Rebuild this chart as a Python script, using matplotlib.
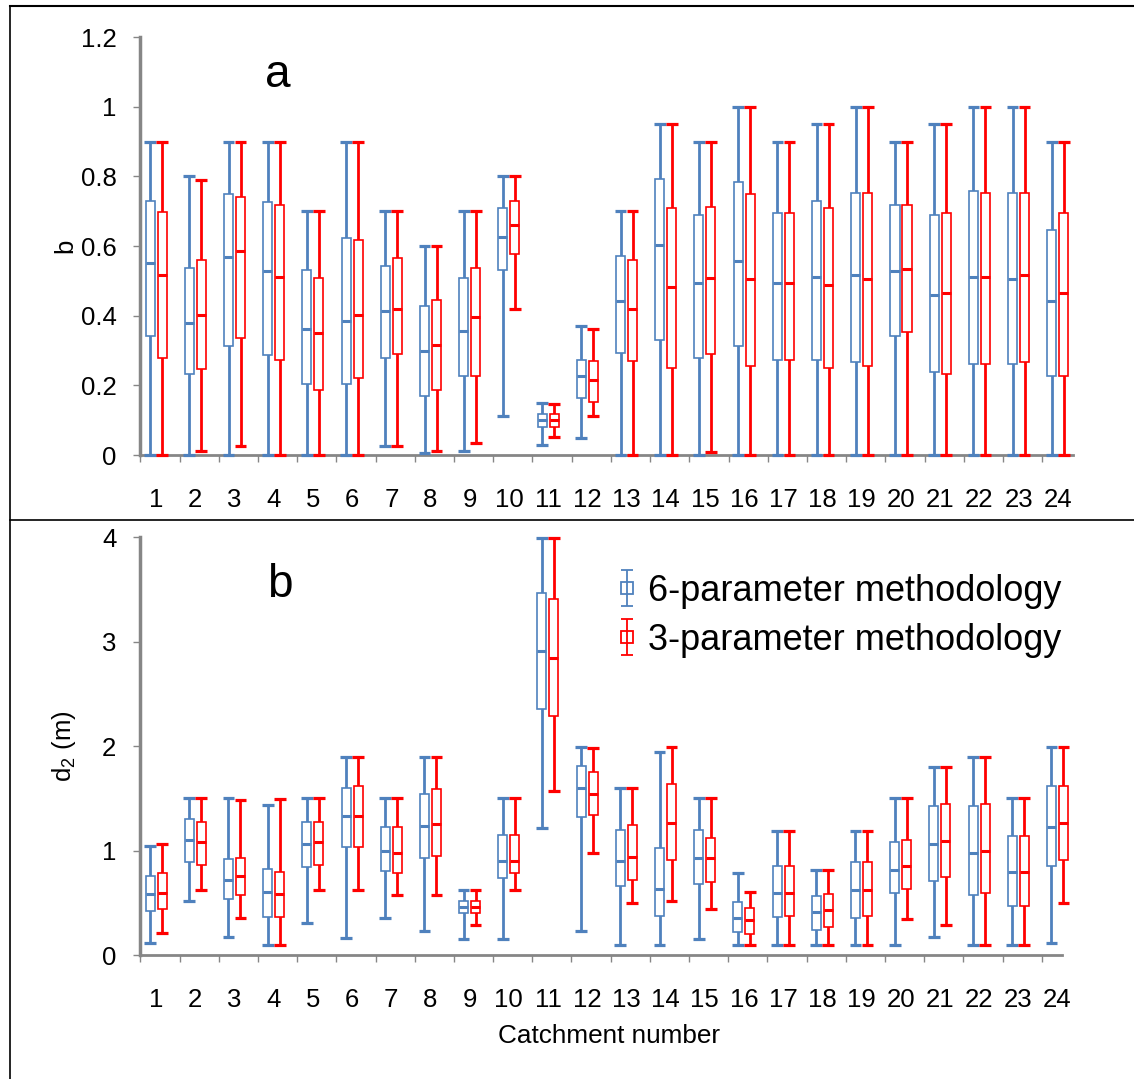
import matplotlib.pyplot as plt
import numpy as np
from matplotlib.lines import Line2D
from matplotlib.ticker import FuncFormatter

plt.rcParams['font.family'] = ['Liberation Sans', 'DejaVu Sans']
plt.rcParams['mathtext.default'] = 'regular'

catchments = np.arange(1, 25)
tick_labels = [str(c) for c in catchments]

# panel a: parameter b
b6_max = [0.90, 0.80, 0.90, 0.90, 0.70, 0.90, 0.70, 0.60, 0.70, 0.80, 0.148, 0.369,
          0.70, 0.95, 0.90, 1.00, 0.90, 0.95, 1.00, 0.90, 0.95, 1.00, 1.00, 0.90]
b6_q3 = [0.730, 0.536, 0.750, 0.725, 0.530, 0.622, 0.542, 0.428, 0.508, 0.708, 0.119, 0.273,
         0.570, 0.793, 0.690, 0.783, 0.696, 0.730, 0.753, 0.719, 0.690, 0.759, 0.753, 0.645]
b6_med = [0.550, 0.380, 0.569, 0.529, 0.362, 0.386, 0.414, 0.300, 0.357, 0.627, 0.100, 0.226,
          0.443, 0.603, 0.494, 0.557, 0.494, 0.511, 0.517, 0.529, 0.460, 0.511, 0.506, 0.443]
b6_q1 = [0.343, 0.233, 0.312, 0.286, 0.205, 0.205, 0.279, 0.170, 0.228, 0.530, 0.079, 0.165,
         0.292, 0.330, 0.279, 0.313, 0.273, 0.273, 0.268, 0.342, 0.239, 0.262, 0.262, 0.228]
b6_min = [0, 0, 0, 0, 0, 0, 0.026, 0.005, 0.012, 0.111, 0.030, 0.048,
          0, 0, 0, 0, 0, 0, 0, 0, 0, 0, 0, 0]

b3_max = [0.90, 0.79, 0.90, 0.90, 0.70, 0.90, 0.70, 0.60, 0.70, 0.80, 0.146, 0.362,
          0.70, 0.95, 0.90, 1.00, 0.90, 0.95, 1.00, 0.90, 0.95, 1.00, 1.00, 0.90]
b3_q3 = [0.697, 0.559, 0.742, 0.719, 0.508, 0.616, 0.565, 0.445, 0.536, 0.730, 0.119, 0.269,
         0.559, 0.708, 0.713, 0.748, 0.696, 0.708, 0.753, 0.719, 0.696, 0.753, 0.753, 0.696]
b3_med = [0.517, 0.403, 0.586, 0.511, 0.350, 0.403, 0.420, 0.316, 0.397, 0.660, 0.100, 0.214,
          0.420, 0.483, 0.507, 0.506, 0.494, 0.489, 0.506, 0.534, 0.466, 0.511, 0.517, 0.466]
b3_q1 = [0.279, 0.246, 0.336, 0.273, 0.188, 0.222, 0.290, 0.188, 0.228, 0.576, 0.079, 0.153,
         0.269, 0.250, 0.290, 0.256, 0.273, 0.250, 0.256, 0.353, 0.233, 0.262, 0.268, 0.228]
b3_min = [0, 0.012, 0.026, 0, 0, 0, 0.026, 0.012, 0.035, 0.419, 0.052, 0.111,
          0, 0, 0.009, 0, 0, 0, 0, 0, 0, 0, 0, 0]

# panel b: d2 (m)
d6_max = [1.04, 1.50, 1.50, 1.44, 1.50, 1.90, 1.50, 1.90, 0.62, 1.50, 3.99, 1.99,
          1.60, 1.94, 1.50, 0.79, 1.19, 0.81, 1.19, 1.50, 1.80, 1.90, 1.50, 1.99]
d6_q3 = [0.757, 1.299, 0.916, 0.820, 1.277, 1.603, 1.223, 1.542, 0.514, 1.146, 3.464, 1.810,
         1.197, 1.025, 1.197, 0.508, 0.852, 0.565, 0.894, 1.082, 1.427, 1.427, 1.140, 1.619]
d6_med = [0.584, 1.101, 0.718, 0.603, 1.063, 1.331, 0.999, 1.235, 0.457, 0.903, 2.915, 1.599,
          0.903, 0.635, 0.926, 0.354, 0.597, 0.412, 0.623, 0.814, 1.063, 0.980, 0.795, 1.229]
d6_q1 = [0.418, 0.894, 0.533, 0.361, 0.840, 1.031, 0.801, 0.932, 0.399, 0.737, 2.353, 1.318,
         0.664, 0.373, 0.680, 0.220, 0.361, 0.239, 0.354, 0.591, 0.706, 0.571, 0.469, 0.852]
d6_min = [0.118, 0.520, 0.176, 0.099, 0.310, 0.160, 0.351, 0.233, 0.156, 0.156, 1.213, 0.233,
          0.099, 0.099, 0.156, 0.099, 0.099, 0.099, 0.099, 0.099, 0.176, 0.099, 0.099, 0.118]

d3_max = [1.06, 1.50, 1.48, 1.49, 1.50, 1.90, 1.50, 1.90, 0.62, 1.50, 3.99, 1.98,
          1.60, 1.99, 1.50, 0.60, 1.19, 0.81, 1.19, 1.50, 1.80, 1.90, 1.50, 1.99]
d3_q3 = [0.782, 1.277, 0.932, 0.798, 1.277, 1.622, 1.223, 1.587, 0.514, 1.146, 3.406, 1.756,
         1.242, 1.638, 1.121, 0.450, 0.852, 0.584, 0.894, 1.101, 1.446, 1.446, 1.140, 1.619]
d3_med = [0.597, 1.082, 0.757, 0.584, 1.082, 1.331, 0.980, 1.255, 0.457, 0.903, 2.844, 1.542,
          0.942, 1.267, 0.926, 0.335, 0.597, 0.431, 0.623, 0.852, 1.095, 0.999, 0.795, 1.267]
d3_q1 = [0.437, 0.859, 0.571, 0.361, 0.859, 1.031, 0.782, 0.951, 0.399, 0.782, 2.292, 1.338,
         0.718, 0.910, 0.702, 0.201, 0.373, 0.265, 0.373, 0.629, 0.744, 0.591, 0.469, 0.910]
d3_min = [0.214, 0.623, 0.351, 0.099, 0.623, 0.623, 0.578, 0.578, 0.291, 0.623, 1.574, 0.980,
          0.501, 0.520, 0.444, 0.099, 0.099, 0.099, 0.099, 0.348, 0.291, 0.099, 0.099, 0.501]

BLUE = '#4F81BD'
RED = '#FF0000'
GREY = '#868686'


def draw_boxes(ax, x, lo, q1, med, q3, hi, color):
    # whisker, white box on top, caps and median
    ax.vlines(x, lo, hi, color=color, lw=2.0, zorder=2, clip_on=False)
    ax.bar(x, np.subtract(q3, q1), width=0.23, bottom=q1, color='white',
           edgecolor=color, linewidth=1.2, zorder=3, clip_on=False)
    ax.hlines(hi, x - 0.15, x + 0.15, color=color, lw=2.3, zorder=4, clip_on=False)
    ax.hlines(lo, x - 0.15, x + 0.15, color=color, lw=2.3, zorder=4, clip_on=False)
    ax.hlines(med, x - 0.115, x + 0.115, color=color, lw=2.2, zorder=4, clip_on=False)


def style_axis(ax, ymax, ystep, xmax):
    ax.set_xlim(0.59, xmax)
    ax.set_ylim(0, ymax)
    ax.set_yticks(np.arange(0, ymax + ystep / 2, ystep))
    ax.yaxis.set_major_formatter(FuncFormatter(lambda v, p: '%g' % round(v, 2)))
    ax.set_xticks(catchments)
    ax.set_xticklabels(tick_labels)
    ax.set_xticks(catchments - 0.4, minor=True)
    ax.tick_params(axis='x', which='major', length=0, pad=24, labelsize=18.5)
    ax.tick_params(axis='x', which='minor', length=5, width=1, color=GREY, direction='out')
    ax.tick_params(axis='y', length=5, width=1, color=GREY, pad=12, labelsize=18.5)
    ax.spines['top'].set_visible(False)
    ax.spines['right'].set_visible(False)
    ax.spines['left'].set_color(GREY)
    ax.spines['left'].set_linewidth(2.5)
    ax.spines['bottom'].set_color(GREY)
    ax.spines['bottom'].set_linewidth(2)


fig = plt.figure(figsize=(11.34, 10.79), dpi=100)
ax1 = fig.add_axes([0.1235, 0.5783, 0.8228, 0.3874])
ax2 = fig.add_axes([0.1235, 0.1149, 0.8131, 0.3871])

off = 0.153
draw_boxes(ax1, catchments - off, b6_min, b6_q1, b6_med, b6_q3, b6_max, BLUE)
draw_boxes(ax1, catchments + off, b3_min, b3_q1, b3_med, b3_q3, b3_max, RED)
draw_boxes(ax2, catchments - off, d6_min, d6_q1, d6_med, d6_q3, d6_max, BLUE)
draw_boxes(ax2, catchments + off, d3_min, d3_q1, d3_med, d3_q3, d3_max, RED)

style_axis(ax1, 1.2, 0.2, 24.39)
style_axis(ax2, 4, 1, 24.12)

ax1.set_ylabel('b', fontsize=18.5)
ax1.yaxis.set_label_coords(-0.067, 0.5)
ax2.set_ylabel('d$_2$ (m)', fontsize=18.5)
ax2.yaxis.set_label_coords(-0.067, 0.5)
ax2.set_xlabel('Catchment number', fontsize=18.8)
ax2.xaxis.set_label_coords(0.509, -0.165)

ax1.text(4.11, 1.057, 'a', fontsize=33, ha='center', va='baseline')
ax2.text(4.16, 3.43, 'b', fontsize=33, ha='center', va='baseline')

# legend proxies drawn like error bars with an open square (kept outside the view)
h6 = ax2.errorbar([-10], [-10], yerr=[0.1], fmt='s', color=BLUE, mfc='none', ms=8,
                  mew=1.3, capsize=4, elinewidth=1.3, capthick=1.3)
h3 = ax2.errorbar([-10], [-10], yerr=[0.1], fmt='s', color=RED, mfc='none', ms=8,
                  mew=1.3, capsize=4, elinewidth=1.3, capthick=1.3)
ax2.legend([h6, h3], ['6-parameter methodology', '3-parameter methodology'],
           loc='upper left', bbox_to_anchor=(0.543, 0.468), bbox_transform=fig.transFigure,
           fontsize=26, frameon=False, handlelength=0.6, handletextpad=0.3,
           labelspacing=0.38, borderpad=0, borderaxespad=0)

# outer frame lines of the original figure
x0 = 10 / 1134
fig.add_artist(Line2D([x0, 1], [1 - 6 / 1079, 1 - 6 / 1079], transform=fig.transFigure,
                      color='black', lw=1.5))
fig.add_artist(Line2D([x0, x0], [0, 1 - 6 / 1079], transform=fig.transFigure,
                      color='black', lw=1.2))
fig.add_artist(Line2D([x0, 1], [1 - 520 / 1079, 1 - 520 / 1079], transform=fig.transFigure,
                      color='black', lw=1.2))

fig.savefig('out.png', dpi=100)
